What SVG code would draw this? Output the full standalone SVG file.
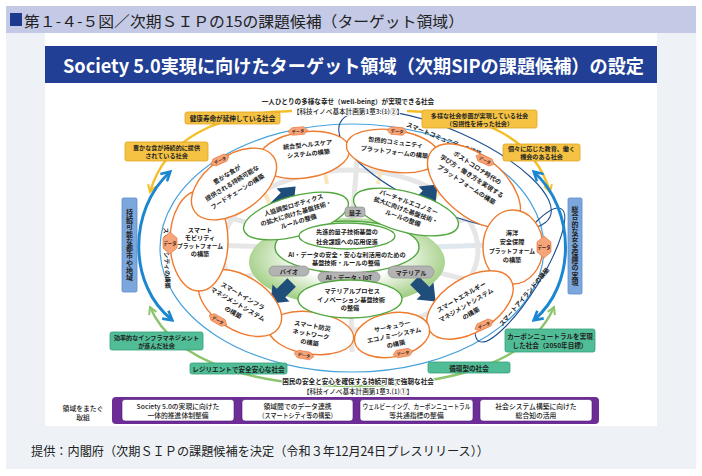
<svg xmlns="http://www.w3.org/2000/svg" width="702" height="476" viewBox="0 0 702 476">
<defs>
<style>
text{font-family:'Noto Sans CJK JP','Noto Sans',sans-serif;fill:#222;}
.t{font-size:6.2px;font-weight:700;text-anchor:middle;dominant-baseline:central;}
.ts{font-size:5.8px;font-weight:700;text-anchor:middle;dominant-baseline:central;}
.tb{font-size:6.6px;font-weight:700;text-anchor:middle;dominant-baseline:central;}
.tb2{font-size:6.1px;font-weight:700;text-anchor:middle;dominant-baseline:central;}
.tv{font-size:7px;font-weight:700;text-anchor:middle;writing-mode:vertical-rl;text-orientation:upright;}
.tp{font-size:6.8px;font-weight:500;text-anchor:middle;dominant-baseline:central;}
.orange{fill:#fff;stroke:#ef7b2f;stroke-width:1.4;}
.green{fill:#fff;stroke:#52a83f;stroke-width:1.4;}
.ybox{fill:#f6c244;stroke:#e0a520;stroke-width:0.8;}
.gbox{fill:#50bd96;stroke:#35a07a;stroke-width:0.8;}
.bbox{fill:#7ba7dc;stroke:#5e8ccc;stroke-width:0.8;}
.pill{fill:#b3b3b3;stroke:#8a8a8a;stroke-width:0.6;}
.dt polygon{fill:#f6a47a;stroke:#e66d2a;stroke-width:0.6;}
.dt text{font-size:4.3px;font-weight:700;text-anchor:middle;dominant-baseline:central;fill:#4a2410;}
.navy{fill:#1f4e7a;}
.pbox{fill:#fff;stroke:#4b1f78;stroke-width:0.6;}
.spoke{stroke:#e6e6e6;stroke-width:5;fill:none;}
.pale{stroke:#f8e6bc;stroke-width:4;fill:none;}
.smart{fill:none;stroke:#1e4f8f;stroke-width:1.1;}
.halo{paint-order:stroke;stroke:#fff;stroke-width:2px;stroke-linejoin:round;}
</style>
<radialGradient id="gg" cx="50%" cy="45%" r="55%">
<stop offset="0.45" stop-color="#ffffff"/>
<stop offset="1" stop-color="#9ccb7c"/>
</radialGradient>
<marker id="ay" viewBox="0 0 10 10" refX="8" refY="5" markerWidth="10" markerHeight="10" markerUnits="userSpaceOnUse" orient="auto-start-reverse">
<path d="M1,1 L8,5 L1,9" fill="none" stroke="#f4bf2a" stroke-width="2"/>
</marker>
<marker id="ag" viewBox="0 0 10 10" refX="8" refY="5" markerWidth="10" markerHeight="10" markerUnits="userSpaceOnUse" orient="auto-start-reverse">
<path d="M1,1 L8,5 L1,9" fill="none" stroke="#8cc56e" stroke-width="2"/>
</marker>
<marker id="ab" viewBox="0 0 12 12" refX="9.5" refY="6" markerWidth="12" markerHeight="12" markerUnits="userSpaceOnUse" orient="auto-start-reverse">
<path d="M1,1 L10,6 L1,11" fill="none" stroke="#1b87d0" stroke-width="2.6"/>
</marker>
</defs>

<rect width="702" height="476" fill="#ffffff"/>
<rect x="6" y="6" width="690" height="463" fill="#eef2f7"/>
<g id="header">
<rect x="6" y="6" width="690" height="27" fill="#c4cae6"/>
<rect x="10" y="13" width="12" height="13" fill="#1e3a8f"/>
<text x="24" y="20" font-size="15" dominant-baseline="central" textLength="440" lengthAdjust="spacingAndGlyphs" fill="#111">第１-４-５図／次期ＳＩＰの15の課題候補（ターゲット領域）</text>
</g>
<rect x="45" y="33" width="612" height="393" fill="#ffffff"/>
<g id="title">
<rect x="45" y="46" width="612" height="37" fill="#213f95"/>
<text x="353.5" y="65" font-size="18.5" font-weight="700" text-anchor="middle" dominant-baseline="central" textLength="581" lengthAdjust="spacingAndGlyphs" style="fill:#ffffff">Society 5.0実現に向けたターゲット領域（次期SIPの課題候補）の設定</text>
</g>

<g id="background-ring">
<line class="spoke" x1="350" y1="250" x2="357" y2="160"/>
<line class="spoke" x1="350" y1="250" x2="352" y2="352"/>
<line class="spoke" x1="350" y1="250" x2="485" y2="214"/>
<line class="spoke" x1="350" y1="250" x2="483" y2="284"/>
<line class="spoke" x1="350" y1="250" x2="215" y2="214"/>
<line class="spoke" x1="350" y1="250" x2="217" y2="284"/>
<line x1="350" y1="250" x2="488" y2="245" stroke="#dfe7ef" stroke-width="5"/>
<line class="spoke" x1="350" y1="250" x2="212" y2="245"/>
<ellipse cx="350" cy="250" rx="128" ry="80" fill="none" stroke="#e6e6e6" stroke-width="5"/>
<line class="pale" x1="324" y1="168" x2="327" y2="184"/>
<line class="pale" x1="381" y1="168" x2="378" y2="184"/>
<line class="pale" x1="264" y1="192" x2="270" y2="204"/>
<line class="pale" x1="438" y1="192" x2="432" y2="204"/>
<line class="pale" x1="451" y1="290" x2="457" y2="282"/>
<line class="pale" x1="250" y1="290" x2="244" y2="282"/>
<line class="pale" x1="330" y1="318" x2="328" y2="330"/>
<line class="pale" x1="372" y1="318" x2="374" y2="330"/>
</g>

<g id="connectors">
<ellipse cx="352" cy="248" rx="192" ry="124" fill="none" stroke="#48a3dc" stroke-width="1.2"/>
<ellipse class="smart" cx="445" cy="170" rx="115" ry="40" transform="rotate(24 445 170)"/>
<ellipse class="smart" cx="520" cy="275" rx="78" ry="20" transform="rotate(-58 520 275)"/>
<path d="M292,111 C215,113 165,140 150,192" fill="none" stroke="#f4bf2a" stroke-width="2.4" marker-end="url(#ay)"/>
<path d="M407,111 C485,113 535,140 550,192" fill="none" stroke="#f4bf2a" stroke-width="2.4" marker-end="url(#ay)"/>
<path d="M150,307 C175,365 260,386 352,386 C444,386 529,365 554,307" fill="none" stroke="#8cc56e" stroke-width="2.4" marker-start="url(#ag)" marker-end="url(#ag)"/>
<path d="M170,172 C128,210 128,285 172,320" fill="none" stroke="#1b87d0" stroke-width="3" marker-start="url(#ab)" marker-end="url(#ab)"/>
<path d="M534,172 C576,210 576,285 534,320" fill="none" stroke="#1b87d0" stroke-width="3" marker-start="url(#ab)" marker-end="url(#ab)"/>
</g>

<g id="smart-labels">
<text class="t" transform="translate(167,258) rotate(88)">スマートシティの構築</text>
<text class="t" transform="translate(444,139) rotate(22)">スマートコミュニティの構築</text>
<text class="t" transform="translate(524,297) rotate(-50)">スマートアイランドの構築</text>
</g>

<g id="goal-top">
<text class="tb" x="348" y="101">一人ひとりの多様な幸せ（well-being）が実現できる社会</text>
<text class="tb halo" x="348" y="111" style="font-weight:500">【科技イノベ基本計画第1章3.(1)②】</text>
</g>
<g id="goal-bottom">
<text class="tb halo" x="358" y="381">国民の安全と安心を確保する持続可能で強靭な社会</text>
<text class="tb" x="358" y="391" style="font-weight:500">【科技イノベ基本計画第1章3.(1)①】</text>
</g>

<g id="y-health"><rect class="ybox" x="185" y="112" width="95" height="12" rx="2"/><text class="tb" x="232.5" y="118">健康寿命が延伸している社会</text></g>
<g id="y-food"><rect class="ybox" x="125" y="142" width="83" height="19" rx="2"/><text class="tb2" x="166.5" y="147.5">豊かな食が持続的に提供</text><text class="tb2" x="166.5" y="155.5">されている社会</text></g>
<g id="y-inclusion"><rect class="ybox" x="422" y="110" width="115" height="18" rx="2"/><text class="tb2" x="479.5" y="115">多様な社会参画が実現している社会</text><text class="tb2" x="479.5" y="123.3">（包摂性を持った社会）</text></g>
<g id="y-education"><rect class="ybox" x="503" y="144" width="77" height="17" rx="2"/><text class="tb2" x="541.5" y="148.5">個々に応じた教育、働く</text><text class="tb2" x="541.5" y="156.7">機会のある社会</text></g>

<g id="b-city"><rect class="bbox" x="122" y="198" width="15" height="94" rx="1.5"/>
<text class="tv" x="129.5" y="245" letter-spacing="0.3">持続可能な都市や地域</text></g>
<g id="b-security"><rect class="bbox" x="568" y="198" width="14" height="96" rx="1.5"/>
<text class="tv" x="575" y="246" letter-spacing="0.3">総合的な安全保障の実現</text></g>

<g id="g-infra"><rect class="gbox" x="110" y="332" width="93" height="18" rx="2"/><text class="tb2" x="156.5" y="337">効率的なインフラマネジメント</text><text class="tb2" x="156.5" y="345.3">が進んだ社会</text></g>
<g id="g-resilient"><rect class="gbox" x="190" y="363" width="97" height="11" rx="2"/><text class="tb" x="238.5" y="368.5">レジリエントで安全安心な社会</text></g>
<g id="g-carbon"><rect class="gbox" x="505" y="329" width="90" height="23" rx="2"/><text class="tb" x="550" y="336">カーボンニュートラルを実現</text><text class="tb" x="550" y="345">した社会（2050年目標）</text></g>
<g id="g-circular"><rect class="gbox" x="428" y="362" width="82" height="11" rx="2"/><text class="tb" x="469" y="367.5">循環型の社会</text></g>

<g id="core-bg">
<ellipse cx="347" cy="262" rx="98" ry="44" fill="url(#gg)"/>
</g>

<g id="arrows-core">
<polygon class="navy" points="-15,-6 0,-6 0,-12 15,0 0,12 0,6 -15,6" transform="translate(285,197) rotate(-45)"/>
<polygon class="navy" points="-15,-6 0,-6 0,-12 15,0 0,12 0,6 -15,6" transform="translate(427,195) rotate(-45)"/>
<polygon class="navy" points="-15,-6 0,-6 0,-12 15,0 0,12 0,6 -15,6" transform="translate(281,293) rotate(135)"/>
<polygon class="navy" points="-15,-6 0,-6 0,-12 15,0 0,12 0,6 -15,6" transform="translate(425,291) rotate(45)"/>
</g>

<g id="n-health"><ellipse class="orange" cx="304" cy="155" rx="46" ry="23" transform="rotate(-8 304 155)"/>
<g transform="translate(308,149) rotate(-6)"><text class="t" y="-4.5">統合型ヘルスケア</text><text class="t" y="4.5">システムの構築</text></g></g>
<g id="n-inclusive"><ellipse class="orange" cx="393" cy="151" rx="47" ry="21" transform="rotate(8 393 151)"/>
<g transform="translate(395,147) rotate(7)"><text class="t" y="-5">包摂的コミュニティ</text><text class="t" y="5">プラットフォームの構築</text></g></g>
<g id="n-postcorona"><ellipse class="orange" cx="474" cy="186" rx="55" ry="30" transform="rotate(40 474 186)"/>
<g transform="translate(472,176) rotate(33)"><text class="t" y="-10">ポストコロナ時代の</text><text class="t" y="0">学び方・働き方を実現する</text><text class="t" y="10">プラットフォームの構築</text></g></g>
<g id="n-ocean"><ellipse class="orange" cx="513" cy="247" rx="30" ry="37"/>
<text class="t" x="512" y="232.5">海洋</text><text class="t" x="512" y="241.5">安全保障</text><text class="ts" x="512" y="250">プラットフォーム</text><text class="t" x="512" y="259.5">の構築</text></g>
<g id="n-energy"><ellipse class="orange" cx="470" cy="305" rx="48" ry="27" transform="rotate(-32 470 305)"/>
<g transform="translate(466,305) rotate(-30)"><text class="t" y="-9.5">スマートエネルギー</text><text class="t" y="0">マネジメントシステム</text><text class="t" y="9.5">の構築</text></g></g>
<g id="n-circular"><ellipse class="orange" cx="392" cy="335" rx="38" ry="22" transform="rotate(-10 392 335)"/>
<g transform="translate(394,335) rotate(-12)"><text class="t" y="-9">サーキュラー</text><text class="t" y="0">エコノミーシステム</text><text class="t" y="9">の構築</text></g></g>
<g id="n-disaster"><ellipse class="orange" cx="311" cy="333" rx="43" ry="21" transform="rotate(8 311 333)"/>
<g transform="translate(311,334) rotate(10)"><text class="t" y="-8.5">スマート防災</text><text class="t" y="0">ネットワーク</text><text class="t" y="8.5">の構築</text></g></g>
<g id="n-infra"><ellipse class="orange" cx="240" cy="303" rx="46" ry="27" transform="rotate(32 240 303)"/>
<g transform="translate(238,304) rotate(30)"><text class="t" y="-9.5">スマートインフラ</text><text class="t" y="0">マネジメントシステム</text><text class="t" y="9.5">の構築</text></g></g>
<g id="n-mobility"><ellipse class="orange" cx="199" cy="241" rx="29" ry="50"/>
<text class="t" x="200" y="229">スマート</text><text class="t" x="200" y="237">モビリティ</text><text class="ts" x="200" y="245">プラットフォーム</text><text class="t" x="200" y="253">の構築</text></g>
<g id="n-food"><ellipse class="orange" cx="234" cy="184" rx="48" ry="28" transform="rotate(-35 234 184)"/>
<g transform="translate(232,183) rotate(-32)"><text class="t" y="-10">豊かな食が</text><text class="t" y="0">提供される持続可能な</text><text class="t" y="10">フードチェーンの構築</text></g></g>

<g id="n-ai"><ellipse class="green" cx="347" cy="247" rx="72" ry="26"/></g>
<g id="n-robotics"><ellipse class="green" cx="296" cy="216" rx="54" ry="20" transform="rotate(-15 296 216)"/>
<g transform="translate(296,213) rotate(-17)"><text class="t" y="-8.5">人協調型ロボティクス</text><text class="t" y="0">の拡大に向けた基盤技術・</text><text class="t" y="8.5">ルールの整備</text></g></g>
<g id="n-virtual"><ellipse class="green" cx="406" cy="212" rx="54" ry="20" transform="rotate(15 406 212)"/>
<g transform="translate(406,210) rotate(20)"><text class="t" y="-8.5">バーチャルエコノミー</text><text class="t" y="0">拡大に向けた基盤技術・</text><text class="t" y="8.5">ルールの整備</text></g></g>
<g id="n-quantum"><ellipse class="green" cx="347" cy="236" rx="48" ry="13"/>
<text class="t" x="347" y="231">先進的量子技術基盤の</text><text class="t" x="347" y="241">社会課題への応用促進</text></g>
<g id="ai-text"><text class="t" x="347" y="254">AI・データの安全・安心な利活用のための</text><text class="t" x="346" y="262.5">基盤技術・ルールの整備</text></g>
<g id="p-quantum"><rect class="pill" x="345" y="207" width="20" height="10" rx="3"/><text class="t" x="355" y="212">量子</text></g>
<g id="p-bio"><rect class="pill" x="269" y="266" width="40" height="10" rx="5"/><text class="t" x="289" y="271">バイオ</text></g>
<g id="p-aiiot"><rect class="pill" x="318" y="272" width="62" height="10" rx="5"/><text class="t" x="349" y="277">AI・データ・IoT</text></g>
<g id="p-material"><rect class="pill" x="388" y="266" width="46" height="12" rx="6"/><text class="t" x="411" y="272">マテリアル</text></g>
<g id="n-material"><ellipse class="green" cx="350" cy="299" rx="52" ry="19"/>
<text class="t" x="352" y="290.5">マテリアルプロセス</text><text class="t" x="351" y="299">イノベーション基盤技術</text><text class="t" x="350" y="307.5">の整備</text></g>

<g id="data-tags">
<g class="dt" transform="translate(298,131) rotate(-5)"><polygon points="-10,0 -6,-3.8 6,-3.8 10,0 6,3.8 -6,3.8"/><text>データ</text></g>
<g class="dt" transform="translate(397,131) rotate(5)"><polygon points="-10,0 -6,-3.8 6,-3.8 10,0 6,3.8 -6,3.8"/><text>データ</text></g>
<g class="dt" transform="translate(485,160) rotate(25)"><polygon points="-10,0 -6,-3.8 6,-3.8 10,0 6,3.8 -6,3.8"/><text>データ</text></g>
<g class="dt" transform="translate(544,247)"><polygon points="0,-11 -7,-5 -7,5 0,11 7,5 7,-5"/><text>データ</text></g>
<g class="dt" transform="translate(484,325) rotate(-25)"><polygon points="-10,0 -6,-3.8 6,-3.8 10,0 6,3.8 -6,3.8"/><text>データ</text></g>
<g class="dt" transform="translate(403,353) rotate(-10)"><polygon points="-10,0 -6,-3.8 6,-3.8 10,0 6,3.8 -6,3.8"/><text>データ</text></g>
<g class="dt" transform="translate(304,355) rotate(10)"><polygon points="-10,0 -6,-3.8 6,-3.8 10,0 6,3.8 -6,3.8"/><text>データ</text></g>
<g class="dt" transform="translate(218,320) rotate(30)"><polygon points="-10,0 -6,-3.8 6,-3.8 10,0 6,3.8 -6,3.8"/><text>データ</text></g>
<g class="dt" transform="translate(170,243)"><polygon points="0,-11 -7,-5 -7,5 0,11 7,5 7,-5"/><text>データ</text></g>
<g class="dt" transform="translate(220,160) rotate(-25)"><polygon points="-10,0 -6,-3.8 6,-3.8 10,0 6,3.8 -6,3.8"/><text>データ</text></g>
</g>

<g id="cross-domain">
<text class="tp" x="83" y="408">領域をまたぐ</text>
<text class="tp" x="83" y="417">取組</text>
<rect x="112" y="397" width="487" height="27" rx="4" fill="#6e2c96"/>
<g id="c1"><rect class="pbox" x="122" y="399.5" width="112" height="21.5" rx="3"/><text class="tp" x="178" y="405.5">Society 5.0の実現に向けた</text><text class="tp" x="178" y="414.5">一体的推進体制整備</text></g>
<g id="c2"><rect class="pbox" x="242" y="399.5" width="111" height="21.5" rx="3"/><text class="tp" x="297.5" y="405.5">領域間でのデータ連携</text><text class="tp" x="297.5" y="414.5" textLength="78" lengthAdjust="spacingAndGlyphs">（スマートシティ等の構築）</text></g>
<g id="c3"><rect class="pbox" x="360" y="399.5" width="113" height="21.5" rx="3"/><text class="tp" x="416.5" y="405.5" textLength="108" lengthAdjust="spacingAndGlyphs">ウェルビーイング、カーボンニュートラル</text><text class="tp" x="416.5" y="414.5">等共通指標の整備</text></g>
<g id="c4"><rect class="pbox" x="480" y="399.5" width="112" height="21.5" rx="3"/><text class="tp" x="536" y="405.5">社会システム構築に向けた</text><text class="tp" x="536" y="414.5">総合知の活用</text></g>
</g>

<text x="31" y="450" font-size="12.5" dominant-baseline="central" textLength="458" lengthAdjust="spacingAndGlyphs" fill="#222">提供：内閣府（次期ＳＩＰの課題候補を決定（令和３年12月24日プレスリリース））</text>
</svg>
